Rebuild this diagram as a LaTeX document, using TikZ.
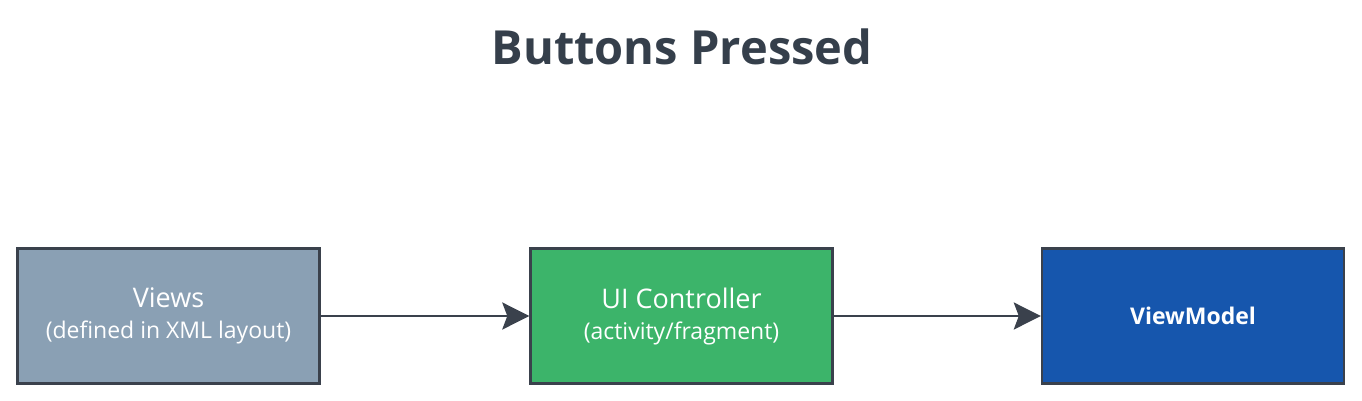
\documentclass[tikz,border=0pt]{standalone}
\usepackage{fontspec}
\setmainfont{Open Sans}
\usetikzlibrary{arrows.meta}
\definecolor{ink}{HTML}{353F4B}
\definecolor{edge}{HTML}{3A414C}
\definecolor{viewsfill}{HTML}{8AA0B4}
\definecolor{ctrlfill}{HTML}{3CB46A}
\definecolor{vmfill}{HTML}{1656AD}
\begin{document}
\begin{tikzpicture}[x=1pt,y=-1pt,
  box/.style={draw=edge,line width=2.4pt,minimum width=302pt,minimum height=135pt,inner sep=0pt,text=white,align=center,font=\fontsize{27}{31}\selectfont},
  conn/.style={draw=edge,line width=2.8pt,-{Stealth[length=27pt,width=27pt,inset=5pt]}}]
\useasboundingbox (0,0) rectangle (1362,400);
\node[font=\bfseries\fontsize{47}{54}\selectfont,text=ink] (title) at (682,47) {Buttons Pressed};
\node[box,fill=viewsfill] (views) at (168.5,316) {Views\\[0pt]{\fontsize{23}{28}\selectfont (defined in XML layout)}};
\node[box,fill=ctrlfill] (ctrl) at (681.5,316) {UI Controller\\[0pt]{\fontsize{23}{28}\selectfont (activity/fragment)}};
\node[box,fill=vmfill,font=\bfseries\fontsize{23}{28}\selectfont] (vm) at (1193,316) {ViewModel};
\draw[conn] (views.east) -- (ctrl.west);
\draw[conn] (ctrl.east) -- (vm.west);
\end{tikzpicture}
\end{document}
